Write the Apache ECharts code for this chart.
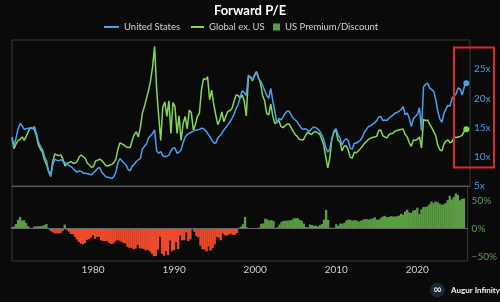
<!DOCTYPE html>
<html>
<head>
<meta charset="utf-8">
<script src="https://cdn.jsdelivr.net/npm/echarts@6/dist/echarts.min.js"></script>
<style>
  html, body { margin: 0; padding: 0; background: #0a0a0b; }
  #chart { width: 500px; height: 302px; }
</style>
</head>
<body>
<div id="chart"></div>
<script>
// quarterly forward P/E, first value = Q1 1970
const startYear = 1970

const us = [
  13.4, 11.8, 13.2, 14.8, // 1970
  15.7, 15.3, 14.7, 14.8, // 1971
  14.9, 14.9, 14.8, 15.2, // 1972
  14.0, 12.5, 11.8, 11.2, // 1973
  10.0, 9.3, 7.4, 6.6, // 1974
  8.6, 9.6, 9.4, 9.3, // 1975
  9.5, 9.2, 9.0, 8.7, // 1976
  8.5, 8.3, 8.0, 7.6, // 1977
  7.4, 7.6, 7.5, 7.2, // 1978
  7.2, 7.1, 7.0, 6.9, // 1979
  7.3, 7.6, 8.0, 8.2, // 1980
  7.4, 7.0, 6.6, 6.5, // 1981
  6.4, 6.3, 6.6, 7.4, // 1982
  9.0, 9.7, 9.3, 8.9, // 1983
  8.6, 7.8, 7.6, 8.4, // 1984
  8.7, 9.2, 9.5, 9.7, // 1985
  11.3, 11.8, 12.2, 13.2, // 1986
  13.6, 14.0, 14.6, 11.0, // 1987
  10.6, 10.9, 10.2, 10.0, // 1988
  10.1, 10.3, 11.0, 11.5, // 1989
  11.5, 10.6, 10.8, 11.2, // 1990
  12.4, 13.4, 13.8, 14.0, // 1991
  14.2, 14.4, 14.6, 14.6, // 1992
  14.7, 14.9, 14.8, 14.5, // 1993
  14.0, 13.5, 12.9, 12.4, // 1994
  12.3, 13.2, 13.6, 14.0, // 1995
  14.6, 15.0, 15.5, 16.0, // 1996
  16.6, 17.3, 18.3, 18.9, // 1997
  20.3, 21.3, 21.0, 20.5, // 1998
  24.0, 23.6, 23.2, 23.8, // 1999
  24.5, 23.4, 23.0, 22.2, // 2000
  21.4, 20.5, 20.0, 21.7, // 2001
  19.6, 17.8, 15.8, 16.6, // 2002
  16.3, 16.8, 17.4, 17.8, // 2003
  17.8, 17.2, 16.6, 16.3, // 2004
  16.0, 15.4, 14.9, 14.7, // 2005
  14.8, 14.6, 14.3, 14.8, // 2006
  15.1, 15.0, 14.8, 14.4, // 2007
  13.8, 13.0, 11.6, 10.8, // 2008
  11.3, 13.2, 14.4, 14.8, // 2009
  13.8, 13.2, 12.0, 12.8, // 2010
  13.1, 12.8, 11.5, 11.3, // 2011
  12.3, 12.3, 12.6, 12.8, // 2012
  13.4, 14.2, 14.7, 15.2, // 2013
  15.3, 15.6, 15.8, 16.2, // 2014
  16.8, 16.9, 16.2, 16.3, // 2015
  16.2, 16.6, 16.9, 17.1, // 2016
  17.5, 17.6, 17.8, 18.1, // 2017
  18.6, 17.2, 17.5, 16.6, // 2018
  15.2, 16.5, 16.9, 17.3, // 2019
  18.4, 14.5, 22.0, 22.4, // 2020
  22.6, 21.8, 21.5, 21.2, // 2021
  19.8, 17.8, 16.5, 15.9, // 2022
  17.4, 18.2, 18.8, 18.7, // 2023
  20.0, 20.4, 20.8, 21.8, // 2024
  21.6, 20.6, 22.0, 22.6 // 2025
]

const globalExUs = [
  13.1, 11.4, 12.2, 12.8, // 1970
  13.0, 13.4, 12.8, 13.5, // 1971
  14.3, 15.0, 14.9, 14.7, // 1972
  13.5, 12.0, 11.3, 10.7, // 1973
  9.4, 8.6, 7.5, 6.9, // 1974
  9.2, 10.5, 10.3, 10.2, // 1975
  10.3, 9.6, 8.4, 8.9, // 1976
  9.0, 9.2, 8.9, 8.9, // 1977
  9.2, 10.0, 10.3, 10.0, // 1978
  9.7, 8.9, 8.6, 8.2, // 1979
  8.3, 9.3, 9.4, 9.6, // 1980
  9.4, 9.0, 8.5, 8.4, // 1981
  8.6, 8.7, 9.0, 9.6, // 1982
  11.3, 12.4, 12.2, 12.0, // 1983
  11.7, 11.6, 11.6, 12.8, // 1984
  13.8, 14.3, 13.4, 15.0, // 1985
  17.5, 18.6, 20.0, 21.3, // 1986
  23.0, 25.4, 28.9, 21.5, // 1987
  17.0, 12.8, 18.5, 19.4, // 1988
  16.9, 19.6, 14.0, 19.3, // 1989
  18.6, 14.0, 17.0, 12.8, // 1990
  15.7, 16.9, 14.8, 18.0, // 1991
  17.6, 14.6, 15.5, 16.9, // 1992
  17.5, 21.5, 23.4, 23.2, // 1993
  23.7, 19.8, 21.4, 19.0, // 1994
  17.2, 15.5, 16.3, 17.7, // 1995
  16.0, 17.0, 17.8, 17.9, // 1996
  18.3, 19.5, 20.6, 20.5, // 1997
  20.0, 20.6, 19.5, 17.0, // 1998
  23.5, 23.8, 23.0, 24.0, // 1999
  24.6, 23.6, 22.6, 20.5, // 2000
  19.6, 17.4, 17.2, 19.0, // 2001
  17.0, 15.7, 15.9, 16.2, // 2002
  15.2, 15.0, 15.3, 15.6, // 2003
  15.6, 15.0, 14.4, 13.8, // 2004
  13.5, 13.0, 12.9, 12.9, // 2005
  13.6, 14.2, 14.0, 13.8, // 2006
  14.2, 14.3, 14.1, 13.9, // 2007
  13.0, 12.0, 10.0, 8.1, // 2008
  9.8, 13.0, 14.2, 14.6, // 2009
  12.8, 12.6, 11.0, 11.8, // 2010
  11.9, 11.2, 9.9, 9.8, // 2011
  10.8, 10.7, 11.0, 11.4, // 2012
  11.8, 12.3, 12.6, 13.0, // 2013
  13.2, 13.3, 13.4, 13.5, // 2014
  14.5, 14.6, 13.6, 13.4, // 2015
  13.2, 13.8, 14.0, 14.0, // 2016
  14.4, 14.5, 14.6, 14.7, // 2017
  14.7, 13.8, 13.4, 12.4, // 2018
  11.8, 12.9, 12.8, 13.0, // 2019
  13.4, 11.5, 16.4, 16.2, // 2020
  16.3, 15.6, 15.0, 14.3, // 2021
  13.6, 12.0, 11.2, 11.0, // 2022
  12.2, 12.7, 12.9, 12.4, // 2023
  12.6, 13.4, 13.3, 13.4, // 2024
  13.5, 13.7, 14.4, 14.7 // 2025
]

const years = us.map((v, i) => startYear + i / 4)
const usData = us.map((v, i) => [years[i], v])
const globalData = globalExUs.map((v, i) => [years[i], v])
// US premium / discount vs global ex. US, in %
const premium = us.map((v, i) => [years[i], +((v / globalExUs[i] - 1) * 100).toFixed(1)])

const lastIdx = us.length - 1
const font = 'Lato'
const legendText = { color: '#d2d2d2', fontSize: 9.5, fontFamily: font }

const chart = echarts.init(document.getElementById('chart'))
chart.setOption({
  backgroundColor: '#0a0a0b',
  animation: false,
  textStyle: { fontFamily: font },
  title: {
    text: 'Forward P/E',
    left: 'center',
    top: -1,
    textStyle: { color: '#ffffff', fontSize: 13, fontWeight: 'bold', fontFamily: font }
  },
  legend: [{
    data: ['United States'],
    top: 17,
    left: 99,
    icon: 'rect',
    itemWidth: 15,
    itemHeight: 2,
    textStyle: legendText
  }, {
    data: ['Global ex. US'],
    top: 17,
    left: 186,
    icon: 'rect',
    itemWidth: 13,
    itemHeight: 2,
    textStyle: legendText
  }, {
    data: [{ name: 'US Premium/Discount', itemStyle: { color: '#5aa046' } }],
    top: 17,
    left: 268,
    icon: 'rect',
    itemWidth: 7,
    itemHeight: 7,
    textStyle: legendText
  }],
  grid: [
    { left: 12, right: 30, top: 40, height: 146, show: true, borderColor: '#383838', borderWidth: 1 },
    { left: 12, right: 30, top: 186, height: 75, show: true, borderColor: '#383838', borderWidth: 1 }
  ],
  xAxis: [{
    gridIndex: 0,
    type: 'value',
    min: 1970,
    max: 2026.2,
    axisLine: { show: true, lineStyle: { color: '#5c5c5c' } },
    axisTick: { show: false },
    axisLabel: { show: false },
    splitLine: { show: false }
  }, {
    gridIndex: 1,
    type: 'value',
    min: 1970,
    max: 2026.2,
    interval: 10,
    axisLine: { show: false },
    axisTick: { show: false },
    splitLine: { show: false },
    axisLabel: {
      color: '#cfcfcf',
      fontSize: 10,
      margin: 4,
      showMinLabel: false,
      showMaxLabel: false,
      formatter: (v) => String(v)
    }
  }],
  yAxis: [{
    gridIndex: 0,
    type: 'value',
    position: 'right',
    min: 5,
    max: 30,
    interval: 5,
    axisLine: { show: false },
    axisTick: { show: false },
    splitLine: { show: false },
    axisLabel: {
      color: '#4b9be3',
      fontSize: 10,
      margin: 4,
      showMaxLabel: false,
      formatter: '{value}x'
    }
  }, {
    gridIndex: 1,
    type: 'value',
    position: 'right',
    min: -58,
    max: 76,
    interval: 2,
    axisLine: { show: false },
    axisTick: { show: false },
    splitLine: { show: false },
    axisLabel: {
      color: '#5f9e48',
      fontSize: 10,
      margin: 4,
      formatter: (v) => {
        if (v % 50 !== 0) return ''
        return (v < 0 ? '\u2212' + (-v) : v) + '%'
      }
    }
  }],
  series: [{
    name: 'Global ex. US',
    type: 'line',
    xAxisIndex: 0,
    yAxisIndex: 0,
    data: globalData,
    symbol: 'circle',
    symbolSize: (val, params) => (params.dataIndex === lastIdx ? 6 : 0),
    lineStyle: { color: '#86d84f', width: 1.5 },
    itemStyle: { color: '#86d84f' },
    z: 3
  }, {
    name: 'United States',
    type: 'line',
    xAxisIndex: 0,
    yAxisIndex: 0,
    data: usData,
    symbol: 'circle',
    symbolSize: (val, params) => (params.dataIndex === lastIdx ? 6 : 0),
    lineStyle: { color: '#4aa0ee', width: 1.5 },
    itemStyle: { color: '#4aa0ee' },
    z: 4
  }, {
    name: 'US Premium/Discount',
    type: 'bar',
    xAxisIndex: 1,
    yAxisIndex: 1,
    data: premium,
    barWidth: 2.3,
    itemStyle: {
      color: (p) => (p.value[1] >= 0 ? '#5a9d45' : '#ef4a2b')
    },
    markLine: {
      silent: true,
      symbol: 'none',
      label: { show: false },
      lineStyle: { color: '#6a6a6a', width: 1, type: 'solid' },
      data: [{ yAxis: 0 }]
    }
  }],
  graphic: [{
    type: 'rect',
    shape: { x: 454, y: 47.5, width: 40, height: 120 },
    style: { fill: 'none', stroke: '#e3262b', lineWidth: 2 },
    z: 100
  }, {
    type: 'circle',
    shape: { cx: 437.5, cy: 290, r: 7.5 },
    style: { fill: '#1b2636' }
  }, {
    type: 'text',
    x: 437.5,
    y: 290,
    style: { text: '\u221e', fill: '#e6e6e6', font: 'bold 11px "DejaVu Sans"', align: 'center', verticalAlign: 'middle' }
  }, {
    type: 'text',
    x: 451,
    y: 290,
    style: { text: 'Augur Infinity', fill: '#f2f2f2', font: 'bold 8px Lato', verticalAlign: 'middle' }
  }]
})
</script>
</body>
</html>
